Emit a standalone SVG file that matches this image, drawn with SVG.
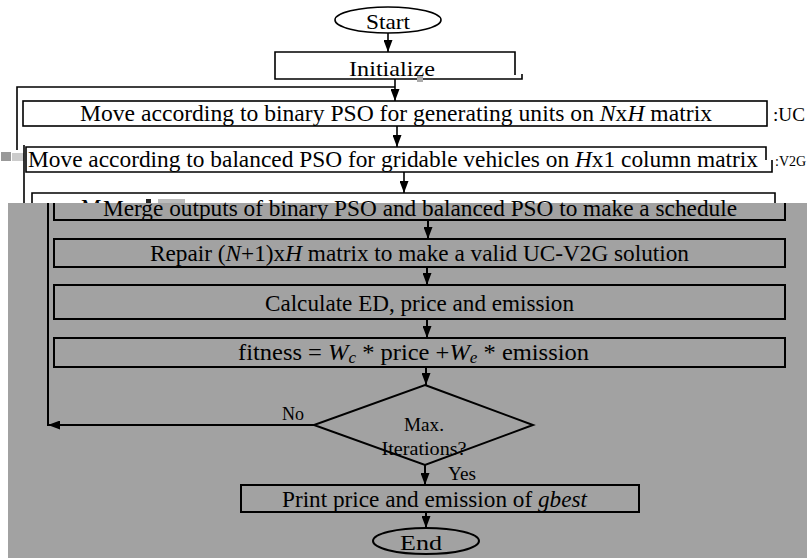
<svg xmlns="http://www.w3.org/2000/svg" width="807" height="558" viewBox="0 0 807 558">
<style>
.t{font-family:"Liberation Serif","Times New Roman",serif;fill:#000}
.box{fill:none;stroke:#000;stroke-width:1.6}
.gbox{fill:none;stroke:#000;stroke-width:2}
.ln{fill:none;stroke:#000;stroke-width:1.6}
.gln{fill:none;stroke:#000;stroke-width:2}
</style>
<defs>
<marker id="ah" markerUnits="userSpaceOnUse" markerWidth="13" markerHeight="9" refX="12" refY="4.5" orient="auto">
<path d="M0,0 L12,4.5 L0,9 z" fill="#000"/>
</marker>
</defs>
<rect x="0" y="0" width="807" height="558" fill="#fff"/>

<!-- upper (white) layer -->
<g id="start">
<ellipse cx="388" cy="20" rx="53" ry="13" class="box"/>
<text class="t" x="388" y="29" font-size="22" text-anchor="middle" textLength="44" lengthAdjust="spacingAndGlyphs">Start</text>
</g>
<g id="initialize">
<path class="box" d="M515,75 V52 H275 V79 H522 V74"/>
<text class="t" x="349" y="76" font-size="22" textLength="86" lengthAdjust="spacingAndGlyphs">Initialize</text>
<rect x="417" y="76" width="6" height="6" fill="#aaa"/>
</g>
<g id="move-binary">
<rect x="23" y="101" width="744" height="25" class="box"/>
<text class="t" x="80" y="121" font-size="23" textLength="632" lengthAdjust="spacingAndGlyphs">Move according to binary PSO for generating units on <tspan font-style="italic">N</tspan>x<tspan font-style="italic">H</tspan> matrix</text>
<text class="t" x="773" y="121" font-size="19" textLength="32" lengthAdjust="spacingAndGlyphs">:UC</text>
</g>
<g id="move-balanced">
<path class="box" d="M766,160 V147 H26 V172 H772 V160"/>
<text class="t" x="28" y="167" font-size="23" textLength="730" lengthAdjust="spacingAndGlyphs">Move according to balanced PSO for gridable vehicles on <tspan font-style="italic">H</tspan>x1 column matrix</text>
<text class="t" x="775" y="166" font-size="14">:V2G</text>
<rect x="1" y="152" width="10" height="9" fill="#999"/>
<rect x="12" y="153" width="12" height="8" fill="#ccc"/>
</g>
<g id="merge-top">
<path class="box" d="M32,205 V193 H775 V205"/>
<text class="t" x="81" y="215" font-size="23">M</text>
<rect x="146" y="199" width="5" height="5" fill="#222"/>
<rect x="158" y="199" width="27" height="5" fill="#bbb"/>
</g>
<g id="connectors-top">
<path class="ln" d="M388,33 V52" marker-end="url(#ah)"/>
<path class="ln" d="M395,79 V101" marker-end="url(#ah)"/>
<path class="ln" d="M17,150 V87 H395"/>
<path class="ln" d="M24,145 V205"/>
<path class="ln" d="M397,126 V147" marker-end="url(#ah)"/>
<path class="ln" d="M404,172 V193" marker-end="url(#ah)"/>
</g>

<!-- lower (gray) layer -->
<rect x="8" y="203" width="799" height="355" fill="#a2a2a2"/>
<g id="merge">
<path class="gbox" d="M54,203 V220 H785 V203"/>
<text class="t" x="103" y="216" font-size="23" textLength="634" lengthAdjust="spacingAndGlyphs">Merge outputs of binary PSO and balanced PSO to make a schedule</text>
</g>
<g id="repair">
<rect x="54" y="239" width="731" height="28" class="gbox"/>
<text class="t" x="150" y="261" font-size="23" textLength="539" lengthAdjust="spacingAndGlyphs">Repair (<tspan font-style="italic">N</tspan>+1)x<tspan font-style="italic">H</tspan> matrix to make a valid UC-V2G solution</text>
</g>
<g id="calculate">
<rect x="54" y="285" width="731" height="34" class="gbox"/>
<text class="t" x="265" y="311" font-size="23" textLength="309" lengthAdjust="spacingAndGlyphs">Calculate ED, price and emission</text>
</g>
<g id="fitness">
<rect x="54" y="338" width="731" height="29" class="gbox"/>
<text class="t" x="238" y="360" font-size="23" textLength="351" lengthAdjust="spacingAndGlyphs">fitness =  <tspan font-style="italic">W</tspan><tspan font-style="italic" font-size="16" dy="3">c</tspan><tspan dy="-3"> * price +</tspan><tspan font-style="italic">W</tspan><tspan font-style="italic" font-size="16" dy="3">e</tspan><tspan dy="-3"> * emission</tspan></text>
</g>
<g id="decision">
<path class="gbox" d="M425,385 L533,425 L425,465 L314,425 z"/>
<text class="t" x="424" y="431" font-size="18" text-anchor="middle" textLength="40" lengthAdjust="spacingAndGlyphs">Max.</text>
<text class="t" x="424" y="455" font-size="18" text-anchor="middle" textLength="85" lengthAdjust="spacingAndGlyphs">Iterations?</text>
</g>
<g id="print">
<rect x="241" y="485" width="398" height="27" class="gbox"/>
<text class="t" x="282" y="507" font-size="23" textLength="305" lengthAdjust="spacingAndGlyphs">Print price and emission of <tspan font-style="italic">gbest</tspan></text>
</g>
<g id="end">
<ellipse cx="426" cy="541" rx="53" ry="13" class="gbox"/>
<text class="t" x="421" y="550" font-size="22" text-anchor="middle" textLength="42" lengthAdjust="spacingAndGlyphs">End</text>
</g>
<g id="connectors">
<path class="gln" d="M428,220 V239" marker-end="url(#ah)"/>
<path class="gln" d="M427,267 V285" marker-end="url(#ah)"/>
<path class="gln" d="M427,319 V338" marker-end="url(#ah)"/>
<path class="gln" d="M426,367 V385" marker-end="url(#ah)"/>
<path class="gln" d="M425,465 V485" marker-end="url(#ah)"/>
<path class="gln" d="M426,512 V528" marker-end="url(#ah)"/>
<path class="gln" d="M314,425 H48" marker-end="url(#ah)"/>
<path class="gln" d="M48,426 V203"/>
<text class="t" x="282" y="420" font-size="18" textLength="22" lengthAdjust="spacingAndGlyphs">No</text>
<text class="t" x="448" y="480" font-size="18" textLength="28" lengthAdjust="spacingAndGlyphs">Yes</text>
</g>
</svg>
